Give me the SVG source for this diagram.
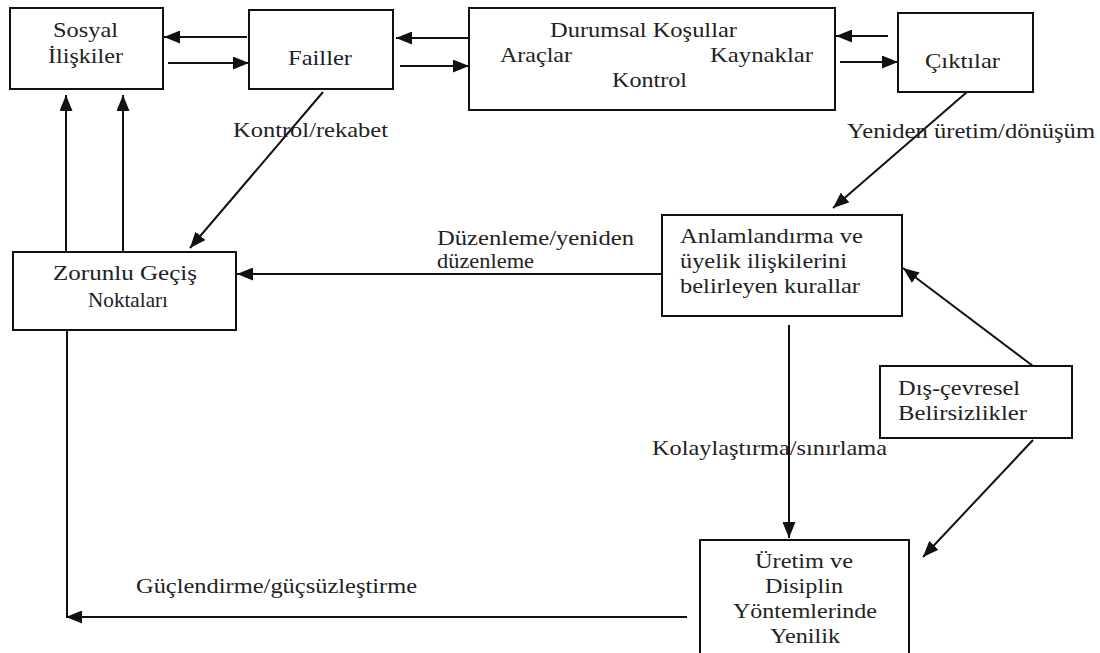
<svg xmlns="http://www.w3.org/2000/svg" width="1100" height="653" viewBox="0 0 1100 653">
<style>
.box{fill:#fff;stroke:#111;stroke-width:2}
.t{font-family:'Liberation Serif','DejaVu Serif','Times New Roman',serif;font-size:22px;fill:#222}
.c{fill:none;stroke:#111;stroke-width:2}
</style>
<defs>
<marker id="ah" markerUnits="userSpaceOnUse" markerWidth="17" markerHeight="13" refX="16" refY="6.5" orient="auto">
<path d="M0,0 L16,6.5 L0,13 z" fill="#111"/>
</marker>
</defs>
<rect width="1100" height="653" fill="#fff"/>
<g id="connectors">
<line class="c" x1="247" y1="37" x2="164" y2="37" marker-end="url(#ah)"/>
<line class="c" x1="168" y1="63" x2="249" y2="63" marker-end="url(#ah)"/>
<line class="c" x1="468" y1="38" x2="396" y2="38" marker-end="url(#ah)"/>
<line class="c" x1="400" y1="66" x2="469" y2="66" marker-end="url(#ah)"/>
<line class="c" x1="888" y1="36" x2="836" y2="36" marker-end="url(#ah)"/>
<line class="c" x1="840" y1="62" x2="898" y2="62" marker-end="url(#ah)"/>
<line class="c" x1="608" y1="56" x2="688" y2="56" marker-end="url(#ah)"/>
<line class="c" x1="323" y1="92" x2="190" y2="248" marker-end="url(#ah)"/>
<line class="c" x1="967" y1="92" x2="833" y2="208" marker-end="url(#ah)"/>
<line class="c" x1="662" y1="274" x2="237" y2="274" marker-end="url(#ah)"/>
<line class="c" x1="66" y1="252" x2="66" y2="95" marker-end="url(#ah)"/>
<line class="c" x1="123" y1="252" x2="123" y2="95" marker-end="url(#ah)"/>
<line class="c" x1="789" y1="325" x2="789" y2="538" marker-end="url(#ah)"/>
<line class="c" x1="1033" y1="366" x2="903" y2="268" marker-end="url(#ah)"/>
<line class="c" x1="1033" y1="440" x2="923" y2="557" marker-end="url(#ah)"/>
<line class="c" x1="67" y1="330" x2="67" y2="618"/>
<line class="c" x1="687" y1="617" x2="66" y2="617" marker-end="url(#ah)"/>
<text class="t" x="233" y="137" textLength="155" lengthAdjust="spacingAndGlyphs">Kontrol/rekabet</text>
<text class="t" x="847" y="138" textLength="248" lengthAdjust="spacingAndGlyphs">Yeniden üretim/dönüşüm</text>
<text class="t" x="437" y="245" textLength="197" lengthAdjust="spacingAndGlyphs">Düzenleme/yeniden</text>
<text class="t" x="437" y="268" textLength="97" lengthAdjust="spacingAndGlyphs">düzenleme</text>
<text class="t" x="652" y="455" textLength="235" lengthAdjust="spacingAndGlyphs">Kolaylaştırma/sınırlama</text>
<text class="t" x="136" y="593" textLength="281" lengthAdjust="spacingAndGlyphs">Güçlendirme/güçsüzleştirme</text>
</g>
<g id="sosyal">
<rect class="box" x="10" y="8" width="153" height="81"/>
<text class="t" x="53" y="37" textLength="65" lengthAdjust="spacingAndGlyphs">Sosyal</text>
<text class="t" x="48" y="63" textLength="75" lengthAdjust="spacingAndGlyphs">İlişkiler</text>
</g>
<g id="failler">
<rect class="box" x="249" y="10" width="144" height="79"/>
<text class="t" x="288" y="65" textLength="64" lengthAdjust="spacingAndGlyphs">Failler</text>
</g>
<g id="durumsal">
<rect class="box" x="469" y="8" width="366" height="102"/>
<text class="t" x="550" y="37" textLength="187" lengthAdjust="spacingAndGlyphs">Durumsal Koşullar</text>
<text class="t" x="500" y="62" textLength="72" lengthAdjust="spacingAndGlyphs">Araçlar</text>
<text class="t" x="710" y="62" textLength="103" lengthAdjust="spacingAndGlyphs">Kaynaklar</text>
<text class="t" x="612" y="87" textLength="75" lengthAdjust="spacingAndGlyphs">Kontrol</text>
</g>
<g id="ciktilar">
<rect class="box" x="898" y="13" width="135" height="79"/>
<text class="t" x="925" y="68" textLength="75" lengthAdjust="spacingAndGlyphs">Çıktılar</text>
</g>
<g id="zorunlu">
<rect class="box" x="13" y="252" width="223" height="78"/>
<text class="t" x="53" y="280" textLength="144" lengthAdjust="spacingAndGlyphs">Zorunlu Geçiş</text>
<text class="t" x="88" y="307" textLength="80" lengthAdjust="spacingAndGlyphs">Noktaları</text>
</g>
<g id="anlamlandirma">
<rect class="box" x="662" y="215" width="240" height="101"/>
<text class="t" x="680" y="243" textLength="183" lengthAdjust="spacingAndGlyphs">Anlamlandırma ve</text>
<text class="t" x="680" y="268" textLength="167" lengthAdjust="spacingAndGlyphs">üyelik ilişkilerini</text>
<text class="t" x="680" y="293" textLength="180" lengthAdjust="spacingAndGlyphs">belirleyen kurallar</text>
</g>
<g id="dis-cevresel">
<rect class="box" x="880" y="366" width="192" height="72"/>
<text class="t" x="898" y="395" textLength="122" lengthAdjust="spacingAndGlyphs">Dış-çevresel</text>
<text class="t" x="898" y="420" textLength="129" lengthAdjust="spacingAndGlyphs">Belirsizlikler</text>
</g>
<g id="uretim">
<rect class="box" x="700" y="540" width="209" height="125"/>
<text class="t" x="755" y="568" textLength="98" lengthAdjust="spacingAndGlyphs">Üretim ve</text>
<text class="t" x="765" y="593" textLength="78" lengthAdjust="spacingAndGlyphs">Disiplin</text>
<text class="t" x="733" y="618" textLength="144" lengthAdjust="spacingAndGlyphs">Yöntemlerinde</text>
<text class="t" x="770" y="643" textLength="70" lengthAdjust="spacingAndGlyphs">Yenilik</text>
</g>
</svg>
